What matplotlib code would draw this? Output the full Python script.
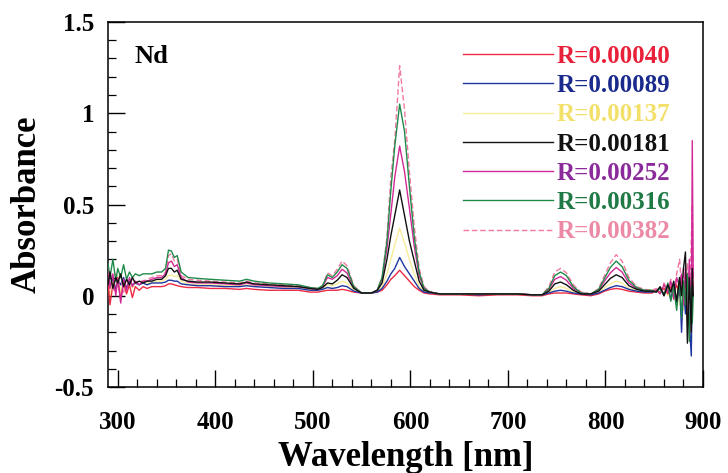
import matplotlib
matplotlib.use("Agg")
import matplotlib.pyplot as plt
from matplotlib.ticker import MultipleLocator

plt.rcParams['font.family'] = ['Liberation Serif', 'DejaVu Serif']
plt.rcParams['font.weight'] = 'bold'

# ---------------- data ----------------
wavelength = [
    290, 292, 295, 298, 300, 303, 306, 309, 312, 315, 318, 322, 326, 330, 335, 340,
    345, 349, 352, 355, 358, 361, 365,
    372, 382, 395, 410, 425, 432, 440, 455, 470, 485, 497, 505,
    510, 515, 520, 525, 530, 535, 542, 550, 560,
    566, 571, 576, 580, 584, 589, 594, 599, 604, 609, 614, 620,
    630, 650, 670, 690, 710, 725,
    735, 742, 748, 754, 760, 767, 775, 785,
    793, 799, 805, 811, 817, 824, 832, 840, 848,
    852, 856, 860, 864, 867, 870, 873, 876, 878, 880, 882, 884, 886, 888, 889, 890,
]

r_00040 = [
    0.08, -0.05, 0.06, 0.02, 0.09, -0.02, 0.07, 0.01, 0.06, -0.01, 0.05, 0.03, 0.05, 0.04, 0.05, 0.05,
    0.05, 0.055, 0.065, 0.065, 0.06, 0.055, 0.05,
    0.045, 0.045, 0.04, 0.04, 0.035, 0.04, 0.035, 0.03, 0.03, 0.03, 0.02, 0.02,
    0.025, 0.03, 0.03, 0.03, 0.035, 0.03, 0.02, 0.015, 0.015,
    0.02, 0.03, 0.06, 0.09, 0.11, 0.14, 0.11, 0.08, 0.05, 0.03, 0.015, 0.01,
    0.005, 0.005, 0.0, 0.005, 0.005, 0.0,
    0.0, 0.01, 0.015, 0.015, 0.015, 0.01, 0.005, 0.0,
    0.01, 0.025, 0.035, 0.04, 0.035, 0.025, 0.02, 0.015, 0.015,
    0.03, 0.02, 0.04, 0.01, 0.05, 0.02, 0.06, 0.0, 0.08, -0.02, 0.1, -0.05, 0.12, -0.08, 0.15, 0.05,
]
r_00089 = [
    0.12, 0.05, 0.1, 0.03, 0.09, 0.06, 0.1, 0.04, 0.08, 0.06, 0.07, 0.06, 0.07, 0.06, 0.07, 0.07,
    0.07, 0.075, 0.085, 0.085, 0.08, 0.08, 0.065,
    0.06, 0.055, 0.055, 0.05, 0.05, 0.055, 0.05, 0.045, 0.04, 0.04, 0.03, 0.03,
    0.035, 0.045, 0.04, 0.045, 0.055, 0.05, 0.025, 0.015, 0.015,
    0.02, 0.04, 0.08, 0.12, 0.15, 0.21, 0.16, 0.12, 0.08, 0.04, 0.02, 0.015,
    0.01, 0.01, 0.005, 0.01, 0.01, 0.005,
    0.005, 0.015, 0.025, 0.03, 0.025, 0.015, 0.01, 0.005,
    0.015, 0.03, 0.045, 0.055, 0.05, 0.035, 0.025, 0.02, 0.02,
    0.03, 0.04, 0.01, 0.05, -0.02, 0.06, -0.05, 0.08, -0.2, 0.05, -0.1, 0.1, -0.15, -0.33, 0.1, 0.0,
]
r_00137 = [
    0.1, 0.0, 0.08, 0.05, 0.11, 0.02, 0.08, 0.05, 0.09, 0.04, 0.07, 0.06, 0.07, 0.07, 0.07, 0.08,
    0.08, 0.09, 0.11, 0.115, 0.105, 0.11, 0.08,
    0.065, 0.06, 0.06, 0.055, 0.055, 0.06, 0.055, 0.05, 0.045, 0.045, 0.035, 0.03,
    0.04, 0.06, 0.055, 0.065, 0.08, 0.07, 0.03, 0.015, 0.015,
    0.025, 0.05, 0.12, 0.2, 0.28, 0.37, 0.29, 0.2, 0.12, 0.05, 0.025, 0.02,
    0.01, 0.01, 0.01, 0.01, 0.01, 0.005,
    0.005, 0.02, 0.04, 0.05, 0.04, 0.02, 0.01, 0.005,
    0.02, 0.045, 0.065, 0.08, 0.07, 0.04, 0.03, 0.025, 0.02,
    0.03, 0.02, 0.05, 0.0, 0.06, -0.02, 0.07, -0.05, 0.1, -0.08, 0.05, -0.12, 0.08, -0.15, 0.05, 0.0,
]
r_00181 = [
    0.06, 0.13, 0.04, 0.1, 0.07, 0.12, 0.05, 0.09, 0.06, 0.1, 0.07, 0.08, 0.07, 0.08, 0.08, 0.09,
    0.09, 0.11, 0.15, 0.15, 0.13, 0.14, 0.09,
    0.08, 0.075, 0.075, 0.07, 0.065, 0.075, 0.065, 0.06, 0.055, 0.05, 0.04, 0.035,
    0.045, 0.07, 0.065, 0.085, 0.115, 0.1, 0.04, 0.015, 0.015,
    0.03, 0.07, 0.2, 0.33, 0.44, 0.58, 0.44, 0.3, 0.19, 0.08, 0.03, 0.02,
    0.01, 0.01, 0.01, 0.01, 0.01, 0.005,
    0.005, 0.025, 0.065, 0.075, 0.06, 0.03, 0.01, 0.01,
    0.025, 0.06, 0.095, 0.115, 0.1, 0.055, 0.035, 0.025, 0.025,
    0.02, 0.05, 0.0, 0.06, 0.02, 0.08, -0.03, 0.1, 0.0, 0.15, 0.24, -0.26, 0.1, -0.2, 0.15, 0.0,
]
r_00252 = [
    0.15, 0.04, 0.12, 0.0, 0.1, -0.04, 0.09, 0.03, 0.1, 0.05, 0.08, 0.06, 0.08, 0.08, 0.09, 0.1,
    0.1, 0.12, 0.18, 0.19, 0.16, 0.17, 0.1,
    0.075, 0.07, 0.07, 0.065, 0.06, 0.07, 0.06, 0.055, 0.05, 0.05, 0.04, 0.035,
    0.05, 0.1, 0.09, 0.11, 0.145, 0.125, 0.045, 0.015, 0.015,
    0.03, 0.09, 0.26, 0.45, 0.65, 0.82, 0.68, 0.48, 0.27, 0.11, 0.04, 0.02,
    0.01, 0.01, 0.01, 0.01, 0.01, 0.005,
    0.005, 0.035, 0.09, 0.105, 0.085, 0.04, 0.015, 0.01,
    0.03, 0.08, 0.125, 0.155, 0.13, 0.07, 0.04, 0.03, 0.025,
    0.03, 0.01, 0.06, 0.02, 0.08, -0.02, 0.1, 0.05, 0.12, -0.05, 0.15, -0.1, 0.2, -0.2, 0.85, 0.1,
]
r_00316 = [
    0.18, 0.1, 0.2, 0.08, 0.15, 0.1, 0.17, 0.09, 0.13, 0.1, 0.12, 0.11, 0.12, 0.12, 0.12, 0.13,
    0.13, 0.15, 0.25, 0.245, 0.21, 0.22, 0.13,
    0.1, 0.095, 0.09, 0.085, 0.08, 0.09, 0.08, 0.07, 0.065, 0.06, 0.045, 0.04,
    0.055, 0.115, 0.1, 0.13, 0.17, 0.15, 0.05, 0.015, 0.015,
    0.03, 0.1, 0.3, 0.58, 0.82, 1.05, 0.9, 0.6, 0.32, 0.13, 0.04, 0.02,
    0.01, 0.01, 0.01, 0.01, 0.01, 0.005,
    0.005, 0.04, 0.11, 0.13, 0.11, 0.05, 0.015, 0.01,
    0.035, 0.095, 0.155, 0.19, 0.16, 0.085, 0.045, 0.03, 0.03,
    0.02, 0.04, 0.0, 0.07, -0.03, 0.05, -0.08, 0.1, -0.12, 0.08, -0.05, 0.12, -0.25, 0.05, -0.15, 0.0,
]
r_00382 = [
    0.1, 0.14, 0.03, 0.12, 0.05, 0.11, 0.02, 0.1, 0.06, 0.09, 0.07, 0.08, 0.08, 0.09, 0.1, 0.11,
    0.11, 0.13, 0.22, 0.23, 0.19, 0.2, 0.11,
    0.09, 0.085, 0.08, 0.075, 0.07, 0.08, 0.07, 0.065, 0.06, 0.055, 0.045, 0.04,
    0.055, 0.125, 0.11, 0.145, 0.19, 0.165, 0.055, 0.015, 0.015,
    0.03, 0.1, 0.32, 0.65, 0.85, 1.26, 1.02, 0.68, 0.38, 0.15, 0.05, 0.02,
    0.01, 0.01, 0.01, 0.01, 0.01, 0.005,
    0.005, 0.05, 0.13, 0.15, 0.125, 0.06, 0.02, 0.01,
    0.04, 0.11, 0.18, 0.225, 0.19, 0.1, 0.05, 0.035, 0.03,
    0.04, 0.02, 0.07, 0.03, 0.09, 0.0, 0.12, 0.2, 0.05, 0.15, -0.05, 0.18, 0.0, 0.3, 0.5, 0.0,
]

labels = ["R=0.00040", "R=0.00089", "R=0.00137", "R=0.00181",
          "R=0.00252", "R=0.00316", "R=0.00382"]
series = [r_00040, r_00089, r_00137, r_00181, r_00252, r_00316, r_00382]
line_colors = ["#ee2b45", "#1f36a0", "#f6ec9a", "#111111", "#d12a96", "#208a4a", "#f07a9f"]
text_colors = ["#e8203a", "#1a2a8c", "#f3e06a", "#111111", "#8b2a9a", "#1f7a45", "#ec8aa5"]
styles = ["-", "-", "-", "-", "-", "-", (0, (4, 2))]
zorders = [3, 3, 2, 6, 4, 4, 3]

# ---------------- figure ----------------
fig = plt.figure(figsize=(7.28, 4.73), dpi=100)
L, R, T, B = 108, 703, 22, 387
ax = fig.add_axes([L/728, 1-B/473, (R-L)/728, (B-T)/473])

handles = []
for vals, lab, c, ls, z in zip(series, labels, line_colors, styles, zorders):
    h, = ax.plot(wavelength, vals, color=c, lw=1.0, ls=ls, label=lab, zorder=z)
    handles.append(h)

ax.set_xlim(290, 900)
ax.set_ylim(-0.5, 1.5)
ax.xaxis.set_major_locator(MultipleLocator(100))
ax.xaxis.set_minor_locator(MultipleLocator(20))
ax.yaxis.set_minor_locator(MultipleLocator(0.1))
ax.set_yticks([-0.5, 0, 0.5, 1, 1.5])
ax.set_yticklabels(["-0.5", "0", "0.5", "1", "1.5"])
ax.tick_params(which='major', direction='in', length=12, width=1.0, labelsize=18)
ax.tick_params(axis='y', which='major', pad=10)
ax.tick_params(axis='x', which='major', pad=17)
ax.tick_params(which='minor', direction='in', length=5.5, width=0.9)
for s in ax.spines.values():
    s.set_linewidth(1.1)
for t in ax.get_xticklabels() + ax.get_yticklabels():
    t.set_fontweight('bold')

ax.set_xlabel("Wavelength [nm]", fontsize=25, fontweight='bold', labelpad=5)
ax.set_ylabel("Absorbance", fontsize=25, fontweight='bold', labelpad=8)

ax.text(0.045, 0.905, "Nd", transform=ax.transAxes, fontsize=19, fontweight='bold',
        ha='left', va='center')

leg = ax.legend(handles=handles, loc='upper left', bbox_to_anchor=(0.597, 0.937),
                frameon=False, fontsize=18, handlelength=3.6, handletextpad=0.15,
                labelspacing=0.25, borderpad=0, borderaxespad=0)
for t, c in zip(leg.get_texts(), text_colors):
    t.set_color(c)
    t.set_fontweight('bold')

fig.savefig("out.png", dpi=100)
